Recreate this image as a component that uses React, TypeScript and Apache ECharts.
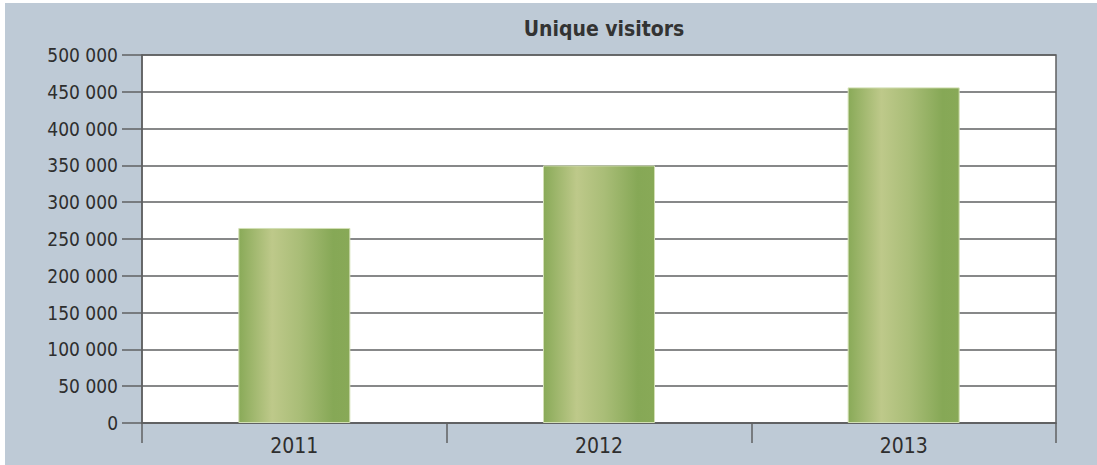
import React, { useEffect, useRef } from "react";
import * as echarts from "echarts";

const title = "Unique visitors";
const categories = ["2011", "2012", "2013"];
const visitors = [265000, 350000, 456000];
const yMin = 0;
const yMax = 500000;
const yInterval = 50000;

const FONT = "'Liberation Sans Narrow', 'Arial Narrow', 'DejaVu Sans Condensed', sans-serif";

function fmt(v: number): string {
  return String(v).replace(/\B(?=(\d{3})+(?!\d))/g, " ");
}

export default function App() {
  const ref = useRef<HTMLDivElement>(null);
  useEffect(() => {
    if (!ref.current) return;
    const chart = echarts.init(ref.current, null, { renderer: "svg" });
    const lineColor = "#5f6062";
    chart.setOption({
      animation: false,
      backgroundColor: "transparent",
      title: {
        text: title,
        left: 599,
        top: 13,
        textAlign: "center",
        textStyle: {
          fontFamily: FONT,
          fontWeight: "bold",
          fontSize: 21,
          color: "#333333",
        },
      },
      grid: {
        left: 142,
        top: 55,
        width: 914,
        height: 368,
        show: true,
        backgroundColor: "#ffffff",
        borderColor: lineColor,
        borderWidth: 1.5,
      },
      xAxis: {
        type: "category",
        data: categories,
        boundaryGap: true,
        axisLine: { show: true, lineStyle: { color: lineColor, width: 1.5 } },
        axisTick: {
          show: true,
          length: 20,
          interval: 0,
          lineStyle: { color: lineColor, width: 1.5 },
        },
        axisLabel: {
          fontFamily: FONT,
          fontSize: 21,
          color: "#2e2e2e",
          margin: 12,
        },
      },
      yAxis: {
        type: "value",
        min: yMin,
        max: yMax,
        interval: yInterval,
        axisLine: { show: true, lineStyle: { color: lineColor, width: 1.5 } },
        axisTick: { show: true, length: 20, lineStyle: { color: lineColor, width: 1.5 } },
        splitLine: { show: true, lineStyle: { color: lineColor, width: 1.5 } },
        axisLabel: {
          fontFamily: FONT,
          fontSize: 19,
          color: "#2e2e2e",
          margin: 24,
          formatter: (v: number) => fmt(v),
        },
      },
      series: [
        {
          type: "bar",
          data: visitors,
          barWidth: 112,
          itemStyle: {
            borderColor: "#d2dfb4",
            borderWidth: 1,
            color: new echarts.graphic.LinearGradient(0, 0, 1, 0, [
              { offset: 0, color: "#89aa58" },
              { offset: 0.3, color: "#bec98a" },
              { offset: 0.55, color: "#a9bd77" },
              { offset: 0.85, color: "#86a856" },
              { offset: 1, color: "#88a957" },
            ]),
          },
        },
      ],
    });
    return () => chart.dispose();
  }, []);

  return (
    <div
      style={{
        position: "fixed",
        left: 0,
        top: 0,
        width: 1097,
        height: 465,
        background: "#ffffff",
      }}
    >
      <div
        style={{
          position: "absolute",
          left: 5,
          top: 3,
          right: 0,
          bottom: 0,
          background: "#becad6",
        }}
      />
      <div
        ref={ref}
        style={{ position: "absolute", left: 0, top: 0, width: 1097, height: 465 }}
      />
    </div>
  );
}
